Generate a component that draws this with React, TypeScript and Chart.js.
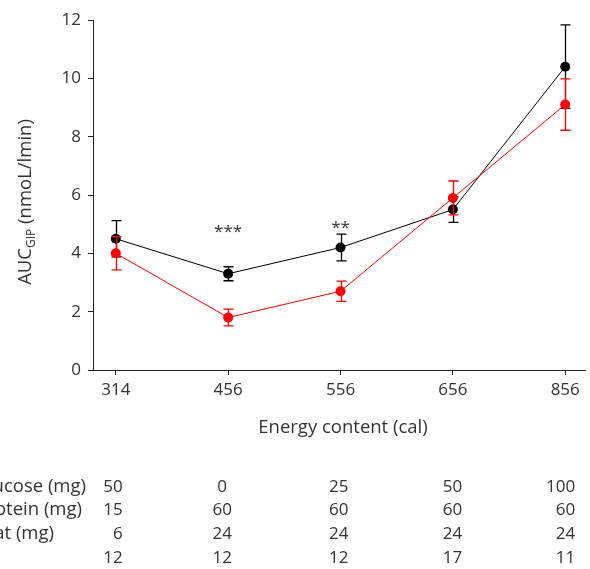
import React, { useEffect, useRef } from "react";
import { Chart, registerables } from "chart.js";

Chart.register(...registerables);

// ---- data ----
const categories = ["314", "456", "556", "656", "856"];
const blackMean = [4.5, 3.3, 4.2, 5.5, 10.4];
const blackErr = [0.62, 0.24, 0.46, 0.44, 1.43];
const redMean = [4.0, 1.8, 2.7, 5.9, 9.1];
const redErr = [0.57, 0.29, 0.35, 0.58, 0.88];
const yTicks = [0, 2, 4, 6, 8, 10, 12];
const significance = ["", "***", "**", "", ""];
const tableRowLabels = ["Glucose (mg)", "Protein (mg)", "Fat (mg)", ""];
const glucoseRow = ["50", "0", "25", "50", "100"];
const proteinRow = ["15", "60", "60", "60", "60"];
const fatRow = ["6", "24", "24", "24", "24"];
const fourthRow = ["12", "12", "12", "17", "11"];
const tableRows = [glucoseRow, proteinRow, fatRow, fourthRow];

const FONT = "'Open Sans', 'Noto Sans', sans-serif";
const TEXT = "#333333";

const errorBarPlugin = {
  id: "errorBars",
  afterDatasetDraw(chart: any, args: any) {
    const idx = args.index;
    const means = idx === 0 ? blackMean : redMean;
    const errs = idx === 0 ? blackErr : redErr;
    const color = idx === 0 ? "#000000" : "#ff0000";
    const ctx = chart.ctx;
    const ys = chart.scales.y;
    ctx.save();
    ctx.strokeStyle = color;
    ctx.lineWidth = 1.3;
    args.meta.data.forEach((pt: any, j: number) => {
      const x = Math.round(pt.x) + 0.5;
      const t = ys.getPixelForValue(means[j] + errs[j]);
      const b = ys.getPixelForValue(means[j] - errs[j]);
      ctx.beginPath();
      ctx.moveTo(x, t);
      ctx.lineTo(x, b);
      ctx.moveTo(x - 5, t);
      ctx.lineTo(x + 5, t);
      ctx.moveTo(x - 5, b);
      ctx.lineTo(x + 5, b);
      ctx.stroke();
    });
    ctx.restore();
  },
};

const textPlugin = {
  id: "texts",
  afterDraw(chart: any) {
    const ctx = chart.ctx;
    const xs = chart.scales.x;
    const ys = chart.scales.y;
    ctx.save();
    ctx.fillStyle = TEXT;

    // significance marks
    ctx.font = `17px ${FONT}`;
    ctx.textAlign = "center";
    ctx.textBaseline = "middle";
    const sigLevel = [0, 4.85, 5.0, 0, 0];
    significance.forEach((s, i) => {
      if (!s) return;
      ctx.fillText(s, xs.getPixelForValue(i), ys.getPixelForValue(sigLevel[i]) + 4);
    });

    // x axis title
    ctx.textBaseline = "alphabetic";
    ctx.textAlign = "center";
    ctx.font = `18.5px ${FONT}`;
    ctx.fillText("Energy content (cal)", 343, 433);

    // y axis title with subscript
    ctx.save();
    ctx.translate(31, 202);
    ctx.rotate(-Math.PI / 2);
    const big = `18.5px ${FONT}`;
    const small = `12px ${FONT}`;
    ctx.font = big;
    const w1 = ctx.measureText("AUC").width;
    const w3 = ctx.measureText(" (nmoL/lmin)").width;
    ctx.font = small;
    const w2 = ctx.measureText("GIP").width;
    const x0 = -(w1 + w2 + w3) / 2;
    ctx.textAlign = "left";
    ctx.font = big;
    ctx.fillText("AUC", x0, 0);
    ctx.font = small;
    ctx.fillText("GIP", x0 + w1, 4);
    ctx.font = big;
    ctx.fillText(" (nmoL/lmin)", x0 + w1 + w2, 0);
    ctx.restore();

    // table
    const rowBase = [492, 515, 539, 563];
    const labelEnd = [86, 82, 54, 0];
    const colAlign = ["right", "center", "right", "left", "right"];
    const colShift = [7, -6, 8, -10, 10];
    tableRows.forEach((row, r) => {
      if (tableRowLabels[r]) {
        ctx.font = `18.5px ${FONT}`;
        ctx.textAlign = "right";
        ctx.fillText(tableRowLabels[r], labelEnd[r], rowBase[r]);
      }
      ctx.font = `17px ${FONT}`;
      row.forEach((v, c) => {
        ctx.textAlign = colAlign[c];
        ctx.fillText(v, xs.getPixelForValue(c) + colShift[c], rowBase[r]);
      });
    });
    ctx.restore();
  },
};

export default function App() {
  const ref = useRef<HTMLCanvasElement | null>(null);
  useEffect(() => {
    document.body.style.margin = "0";
    const canvas = ref.current!;
    const axisCommon = {
      grid: { drawOnChartArea: false, tickLength: 5, color: "#222222", lineWidth: 1 },
      border: { color: "#222222", width: 1 },
    };
    const chart = new Chart(canvas, {
      type: "line",
      data: {
        datasets: [
          {
            label: "black",
            data: blackMean.map((y, i) => ({ x: i, y })),
            borderColor: "#000000",
            backgroundColor: "#000000",
            borderWidth: 1,
            pointRadius: 5,
            pointHoverRadius: 5,
            pointBorderWidth: 0,
            tension: 0,
            order: 2,
          },
          {
            label: "red",
            data: redMean.map((y, i) => ({ x: i, y })),
            borderColor: "#ff0000",
            backgroundColor: "#ff0000",
            borderWidth: 1,
            pointRadius: 5,
            pointHoverRadius: 5,
            pointBorderWidth: 0,
            tension: 0,
            order: 1,
          },
        ],
      },
      options: {
        animation: false,
        responsive: false,
        maintainAspectRatio: false,
        events: [],
        layout: { padding: { top: 20, left: 0, right: 0, bottom: 0 } },
        plugins: { legend: { display: false }, tooltip: { enabled: false } },
        scales: {
          x: {
            type: "linear",
            min: -0.203,
            max: 4.176,
            afterFit: (s: any) => {
              s.height = 199;
            },
            afterBuildTicks: (s: any) => {
              s.ticks = categories.map((_, i) => ({ value: i }));
            },
            ticks: {
              callback: (v: any) => categories[v],
              font: { family: FONT, size: 17 },
              color: TEXT,
              padding: 5,
              maxRotation: 0,
              autoSkip: false,
            },
            ...axisCommon,
          },
          y: {
            min: 0,
            max: 12,
            afterFit: (s: any) => {
              s.width = 93;
            },
            afterBuildTicks: (s: any) => {
              s.ticks = yTicks.map((v) => ({ value: v }));
            },
            ticks: {
              font: { family: FONT, size: 17 },
              color: TEXT,
              padding: 7,
            },
            ...axisCommon,
          },
        },
      } as any,
      plugins: [errorBarPlugin, textPlugin],
    });
    return () => chart.destroy();
  }, []);
  return (
    <canvas ref={ref} width={590} height={569} style={{ display: "block", width: 590, height: 569 }} />
  );
}
